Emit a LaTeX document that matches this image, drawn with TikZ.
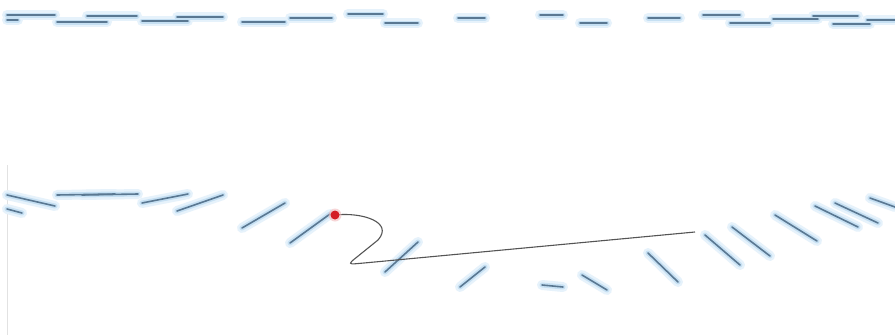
\documentclass[tikz,border=0pt]{standalone}
\usetikzlibrary{calc}
\definecolor{haloc}{HTML}{E6F2FB}
\definecolor{glowc}{HTML}{C3DFF3}
\definecolor{corec}{HTML}{5A7892}
\definecolor{redc}{HTML}{D41C24}
\definecolor{pathc}{HTML}{555555}
\definecolor{edgec}{HTML}{E2E2E2}
\tikzset{
  haloseg/.style={draw=haloc, line width=10pt, line cap=round},
  glowseg/.style={draw=glowc, line width=5pt, line cap=round, opacity=0.9},
  coreseg/.style={draw=corec, line width=1.6pt, line cap=round},
  trail/.style={draw=pathc, line width=1.1pt, line join=round},
  reddot/.style={circle, fill=redc, inner sep=0pt, minimum size=9pt},
  reddotglow/.style={circle, fill=redc!30, inner sep=0pt, minimum size=13pt, opacity=0.6},
  sideline/.style={draw=edgec, line width=0.9pt}
}
\begin{document}
\begin{tikzpicture}[x=1pt,y=-1pt]
\useasboundingbox[fill=white] (0,0) rectangle (895,335);
\def\segs{7/15/55/15, 7/20/18/20, 57/22/107/22, 87/16/137/16, 142/21/188/21,
  177/17/223/17, 242/22/285/22, 290/18/332/18, 348/14/383/14, 385/23/418/23,
  458/18/485/18, 540/15/563/15, 580/23/607/23, 648/18/680/18, 703/15/740/15,
  730/23/770/23, 773/19/818/19, 813/16/858/16, 833/24/870/24, 867/20/895/20,
  7/195/55/206, 7/209/22/213, 57/195/115/194, 82/195/138/194, 142/203/188/194,
  177/211/223/195, 242/228/285/203, 290/243/330/214, 385/272/418/242,
  460/287/485/267, 542/285/563/287, 582/275/607/290, 648/253/678/282,
  705/235/740/265, 732/227/770/256, 775/215/817/241, 815/206/858/227,
  835/203/878/223, 870/198/895/207}
\draw[sideline] (7,165) -- (7,335);
\foreach \xa/\ya/\xb/\yb in \segs { \draw[haloseg] (\xa,\ya) -- (\xb,\yb); }
\foreach \xa/\ya/\xb/\yb in \segs { \draw[glowseg] (\xa,\ya) -- (\xb,\yb); }
\foreach \xa/\ya/\xb/\yb in \segs { \draw[coreseg] (\xa,\ya) -- (\xb,\yb); }
\coordinate (start) at (335,215);
\coordinate (turn) at (352,261);
\coordinate (bend) at (364,263);
\coordinate (finish) at (695,232);
\draw[trail] (start) .. controls (362,212) and (394,222) .. (378,240) -- (turn)
  .. controls (348,265) and (352,264) .. (bend) -- (finish);
\node[reddotglow] (dotglow) at (start) {};
\node[reddot] (dot) at (start) {};
\end{tikzpicture}
\end{document}
